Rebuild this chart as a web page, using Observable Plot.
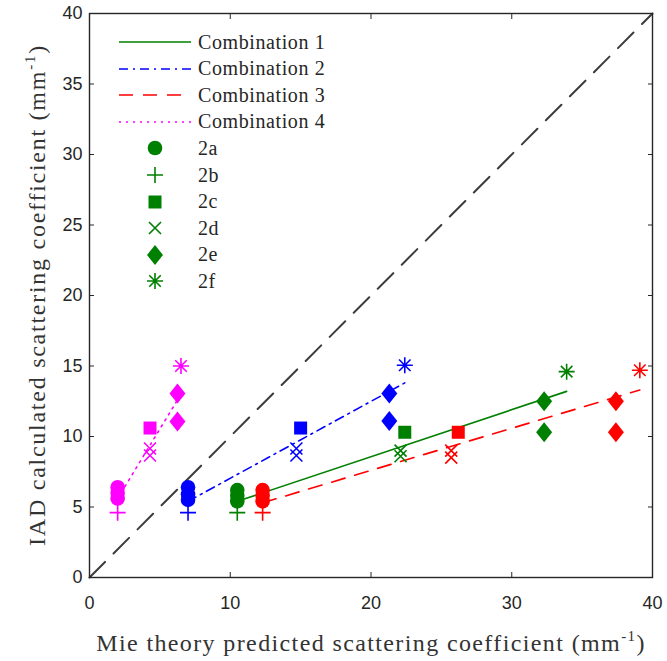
<!DOCTYPE html>
<html><head><meta charset="utf-8">
<script src="https://cdn.jsdelivr.net/npm/d3@7"></script>
<script src="https://cdn.jsdelivr.net/npm/@observablehq/plot@0.6"></script>
<style>
body{margin:0;background:#fff;}
#wrap{position:relative;width:667px;height:661px;}
#legend{position:absolute;left:0;top:0;font-family:"Liberation Serif",serif;font-size:20px;letter-spacing:0.6px;color:#262626;}
#legend .row{position:absolute;height:26px;display:flex;align-items:center;white-space:nowrap;}
</style></head><body><div id="wrap"><div id="legend"></div></div>
<script>
const formulations = ["2a", "2b", "2c", "2d", "2e", "2f"];
const combinations = ["Combination 1", "Combination 2", "Combination 3", "Combination 4"];
const comboColors = ["#008000", "#0000ff", "#ff0000", "#ff00ff"];
const comboDash = [null, "9,5,2,5", "14,10", "2,5"];

// x (Mie predicted) per formulation, for each combination
const xCombo1 = [10.5, 10.5, 22.4, 22.1, 32.3, 33.9];
const xCombo2 = [7.0, 7.0, 15.0, 14.7, 21.3, 22.4];
const xCombo3 = [12.3, 12.3, 26.2, 25.7, 37.4, 39.1];
const xCombo4 = [2.0, 2.0, 4.3, 4.3, 6.25, 6.5];

// y (IAD calculated) values per formulation
const yCombo1 = [[6.2, 5.8, 5.4], [4.6], [10.3], [9.0, 8.6], [12.5, 10.3], [14.6]];
const yCombo2 = [[6.4, 5.9, 5.5], [4.6], [10.6], [9.15, 8.65], [13.05, 11.1], [15.05]];
const yCombo3 = [[6.2, 5.8, 5.4], [4.6], [10.3], [9.0, 8.5], [12.5, 10.3], [14.7]];
const yCombo4 = [[6.4, 6.0, 5.6], [4.6], [10.6], [9.15, 8.65], [13.05, 11.06], [15.0]];

// fitted lines endpoints
const fitX = [[10.5, 33.9], [7.0, 22.4], [12.3, 39.1], [2.0, 6.5]];
const fitY = [[5.4, 13.2], [5.4, 13.8], [5.3, 13.3], [5.6, 13.0]];

const diagonal = [0, 40];
const xTicks = [0, 10, 20, 30, 40];
const yTicks = [0, 5, 10, 15, 20, 25, 30, 35, 40];

const xs = [xCombo1, xCombo2, xCombo3, xCombo4];
const ys = [yCombo1, yCombo2, yCombo3, yCombo4];
const points = [];
xs.forEach((xc, i) => xc.forEach((x, j) => ys[i][j].forEach(y =>
  points.push({combo: i, form: formulations[j], x, y, color: comboColors[i]}))));
const fits = [];
fitX.forEach((fx, i) => fx.forEach((x, k) => fits.push({combo: i, x, y: fitY[i][k]})));

// custom MATLAB-like symbols (size -> radius)
const rad = s => Math.sqrt(s / Math.PI);
const symbols = {
  "2a": {filled: true, r: 7.3, draw(c, s) { const r = rad(s); c.moveTo(r, 0); c.arc(0, 0, r, 0, 2 * Math.PI); }},
  "2b": {filled: false, r: 8, draw(c, s) { const r = rad(s); c.moveTo(-r, 0); c.lineTo(r, 0); c.moveTo(0, -r); c.lineTo(0, r); }},
  "2c": {filled: true, r: 6.5, draw(c, s) { const r = rad(s); c.rect(-r, -r, 2 * r, 2 * r); }},
  "2d": {filled: false, r: 6, draw(c, s) { const r = rad(s); c.moveTo(-r, -r); c.lineTo(r, r); c.moveTo(-r, r); c.lineTo(r, -r); }},
  "2e": {filled: true, r: 10, draw(c, s) { const r = rad(s), w = r * 0.8; c.moveTo(0, -r); c.lineTo(w, 0); c.lineTo(0, r); c.lineTo(-w, 0); c.closePath(); }},
  "2f": {filled: false, r: 8, draw(c, s) { const r = rad(s), d = r * 0.72; c.moveTo(-r, 0); c.lineTo(r, 0); c.moveTo(0, -r); c.lineTo(0, r); c.moveTo(-d, -d); c.lineTo(d, d); c.moveTo(-d, d); c.lineTo(d, -d); }}
};

const axisColor = "#262626";
const tickFont = "Liberation Sans, Arial, sans-serif";
const marks = [
  Plot.line(diagonal, {x: d => d, y: d => d, stroke: "#3c3c3c", strokeWidth: 2, strokeDasharray: "22,12"}),
  ...combinations.map((c, i) => Plot.line(fits.filter(d => d.combo === i), {
    x: "x", y: "y", stroke: comboColors[i], strokeWidth: 1.6, strokeDasharray: comboDash[i] || undefined
  })),
  ...formulations.map(f => {
    const s = symbols[f];
    return Plot.dot(points.filter(d => d.form === f), s.filled
      ? {x: "x", y: "y", symbol: s, r: s.r, fill: "color", stroke: "none"}
      : {x: "x", y: "y", symbol: s, r: s.r, fill: "none", stroke: "color", strokeWidth: 1.6});
  }),
  Plot.frame({stroke: axisColor, strokeWidth: 1.4}),
  Plot.axisX({anchor: "bottom", ticks: xTicks, tickSize: -5, tickPadding: 24, tickFormat: d => d, label: null,
    fontSize: 18, fontFamily: tickFont, color: axisColor}),
  Plot.axisX({anchor: "top", ticks: xTicks, tickSize: -5, tickFormat: () => "", label: null, color: axisColor}),
  Plot.axisY({anchor: "left", ticks: yTicks, tickSize: -5, tickPadding: 12, tickFormat: d => d, label: null,
    fontSize: 18, fontFamily: tickFont, color: axisColor}),
  Plot.axisY({anchor: "right", ticks: yTicks, tickSize: -5, tickFormat: () => "", label: null, color: axisColor})
];

const chart = Plot.plot({
  width: 667, height: 661,
  marginLeft: 89, marginRight: 15, marginTop: 13, marginBottom: 84,
  x: {domain: [0, 40]}, y: {domain: [0, 40]},
  color: {type: "identity"},
  style: {background: "#fff", overflow: "visible"},
  marks
});
document.getElementById("wrap").prepend(chart);

// axis titles with superscripts
const svg = d3.select(chart);
function title(sel, main, target) {
  sel.attr("font-family", "Liberation Serif, Times New Roman, serif").attr("font-size", 24).attr("fill", "#333");
  sel.append("tspan").text(main + " (mm");
  sel.append("tspan").attr("font-size", 15).attr("dy", -10).text("-1");
  sel.append("tspan").attr("dy", 10).text(")");
  const node = sel.node();
  const len = node.getComputedTextLength();
  const n = node.textContent.length;
  sel.attr("letter-spacing", Math.max(0, (target - len) / (n - 1)).toFixed(2));
}
title(svg.append("text").attr("x", 371).attr("y", 651).attr("text-anchor", "middle"),
  "Mie theory predicted scattering coefficient", 548);
title(svg.append("text").attr("transform", "translate(45,295) rotate(-90)").attr("text-anchor", "middle"),
  "IAD calculated scattering coefficient", 500);

// legend
const legend = d3.select("#legend");
const rowTop = 29, rowStep = 26.6;
combinations.forEach((c, i) => {
  const row = legend.append("div").attr("class", "row").style("left", "118px").style("top", (rowTop + i * rowStep) + "px");
  const sv = row.append("svg").attr("width", 74).attr("height", 10).style("margin-right", "6px");
  sv.append("line").attr("x1", 1).attr("x2", 73).attr("y1", 5).attr("y2", 5)
    .attr("stroke", comboColors[i]).attr("stroke-width", 1.6).attr("stroke-dasharray", comboDash[i]);
  row.append("span").text(c);
});
formulations.forEach((f, j) => {
  const row = legend.append("div").attr("class", "row").style("left", "144px").style("top", (rowTop + (j + 4) * rowStep) + "px");
  const s = symbols[f];
  const p = d3.path(); s.draw(p, s.r * s.r * Math.PI);
  const sv = row.append("svg").attr("width", 22).attr("height", 22).style("margin-right", "32px");
  sv.append("path").attr("transform", "translate(11,11)").attr("d", p.toString())
    .attr("fill", s.filled ? comboColors[0] : "none").attr("stroke", s.filled ? "none" : comboColors[0]).attr("stroke-width", 1.6);
  row.append("span").text(f);
});
</script></body></html>
